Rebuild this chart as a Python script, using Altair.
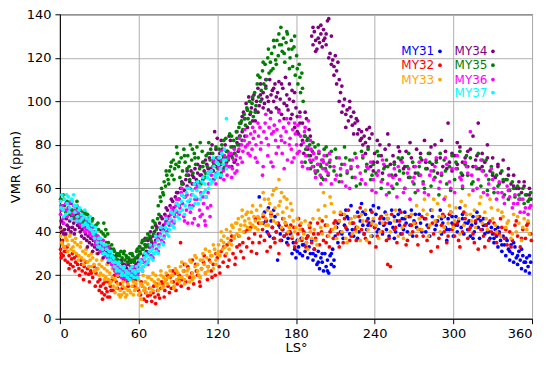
import altair as alt
import pandas as pd

# ---- data: (LS, VMR ppm) per Mars year ----
my31 = [(152,56),(155,44),(156,49),(158,40),(159,51),(160,38),(161,45),(162,42),(163,37),(164,47),(165,40),(166,27),(167,43),(168,39),(169,36),(170,41),(171,38),(172,44),(174,37),(175,40),(177,30),(178,35),(179,32),(180,28),(181,36),(182,33),(183,30),(184,37),(185,29),(186,34),(187,31),(188,35),(189,28),(190,33),(191,30),(192,36),(193,27),(194,32),(195,29),(196,25),(197,31),(198,23),(199,28),(200,26),(201,22),(202,30),(203,24),(204,27),(205,21),(206,29),(207,25),(208,32),(209,27),(210,38),(211,42),(212,35),(213,45),(214,40),(215,48),(216,37),(217,43),(218,50),(219,41),(220,46),(221,39),(222,52),(223,44),(224,38),(225,47),(226,42),(227,49),(228,40),(229,45),(230,53),(231,43),(232,39),(233,48),(234,41),(235,46),(236,44),(237,50),(238,38),(239,45),(240,42),(241,48),(242,40),(243,51),(244,44),(245,47),(246,39),(247,43),(248,49),(249,41),(250,46),(251,38),(252,44),(253,50),(254,42),(255,47),(256,40),(257,45),(258,48),(259,43),(260,39),(261,46),(262,41),(263,49),(264,44),(265,40),(266,47),(267,43),(268,50),(269,38),(270,45),(272,42),(274,48),(276,40),(278,46),(280,43),(282,38),(284,47),(286,41),(288,45),(290,50),(291,39),(292,44),(293,47),(294,42),(295,36),(296,46),(297,41),(298,49),(299,44),(300,38),(301,43),(302,47),(303,40),(304,45),(305,51),(306,42),(307,46),(308,39),(309,44),(310,48),(311,41),(312,45),(313,38),(314,43),(315,47),(316,40),(317,44),(318,49),(319,42),(320,37),(321,45),(322,41),(323,46),(324,39),(325,43),(326,40),(327,44),(328,37),(329,42),(330,39),(331,35),(332,41),(333,38),(334,33),(335,40),(336,36),(337,31),(338,38),(339,34),(340,29),(341,36),(342,32),(343,27),(344,34),(345,30),(346,26),(347,33),(348,28),(349,25),(350,31),(351,27),(352,23),(353,29),(354,26),(355,22),(356,28),(357,24),(358,21),(359,26)]
my31_extra = [(157,45),(163,50),(168,42),(173,35),(176,39),(181,31),(185,34),(189,38),(193,30),(197,26),(200,30),(204,22),(207,30),(209,24),(212,44),(215,39),(219,47),(223,41),(227,37),(231,49),(235,43),(239,52),(243,41),(247,46),(251,44),(255,37),(259,50),(263,46),(267,39),(271,48),(275,44),(279,40),(283,50),(287,43),(291,46),(295,41),(299,47),(303,43),(307,48),(311,44),(315,37),(319,46),(323,43),(327,40),(331,37),(334,42),(337,34),(340,37),(343,31),(346,35),(349,29),(352,32),(355,26),(358,29)]

my32 = [(0.5,32),(1,30),(1.8,35),(2.5,29),(3.2,33),(4,27),(5,31),(6,26),(7,29),(8,25),(9,27.5),(10,24),(11,28),(12,26),(13.5,25),(14.5,23),(16,27),(17,22),(18.5,24),(19.5,21),(21,23),(22,20.5),(23.5,22),(25,19),(26,24),(27.5,21),(29,17),(30,13),(31,15),(32,12),(33,16),(34,11),(35,14),(36,12.5),(37,17),(38,10),(39,13),(40,18),(41.5,20),(43,17),(44.5,19.5),(46,16),(47,21),(48.5,18),(50,22),(51.5,17),(53,19),(55,21),(57,15),(58.5,18),(60,13),(61.5,11),(63,15),(64,9),(65.5,12),(67,10.5),(68.5,14),(70,8),(71,12),(72.5,10),(73.5,16),(74.5,13),(76,9.5),(77,14),(78.5,16),(80,13),(81,18),(82.5,15),(84,19),(85,14),(86.5,17),(88,21),(89.5,16),(91,20),(92,35),(93,18),(94.5,22),(96,17),(97.5,24),(99,19),(100.5,21),(102,16),(103.5,25),(105,20),(106.5,17),(108,23),(109.5,26),(111,21),(112.5,18),(114,27),(115.5,22),(117,25),(118.5,20),(120,28),(121.5,24),(123,31),(124.5,26),(126,29),(127.5,34),(129,27),(130.5,36),(132,30),(133.5,25),(135,33),(136.5,38),(138,31),(139.5,35),(141,40),(142.5,33),(144,37),(145.5,42),(147,35),(148.5,39),(150,30),(151.5,44),(153,38),(154.5,41),(156,36),(157.5,45),(159,39),(160.5,33),(162,42),(163.5,37),(165,40),(166.5,44),(168,36),(169.5,41),(171,38),(172.5,43),(174,34),(175.5,40),(177,37),(178.5,42),(180,35),(181.5,39),(183,43),(184.5,36),(186,40),(187.5,33),(189,38),(190.5,42),(192,35),(193.5,39),(195,37),(196.5,44),(198,34),(199.5,40),(201,36),(202.5,43),(204,38),(205.5,33),(207,41),(208.5,37),(210,45),(212,39),(214,48),(216,35),(218,42),(220,50),(222,38),(224,44),(226,36),(228,47),(230,41),(232,39),(234,45),(236,35),(238,49),(240,42),(242,38),(244,46),(246,40),(248,44),(250,25),(251,37),(253,48),(255,41),(257,35),(259,45),(261,39),(263,43),(265,36),(267,47),(269,40),(271,44),(273,34),(275,41),(277,38),(279,46),(281,42),(283,31),(285,39),(287,45),(289,37),(291,43),(293,40),(295,35),(297,48),(299,41),(301,38),(303,44),(305,33),(307,40),(309,46),(311,37),(313,42),(315,39),(317,45),(319,32),(321,41),(323,38),(325,43),(327,36),(329,40),(331,44),(333,35),(335,39),(337,42),(339,37),(341,34),(343,40),(345,36),(347,43),(349,38),(351,33),(353,41),(355,37),(357,44),(359,39)]
my32_extra = [(1,28),(2,36),(3.5,31),(5.5,33),(7,23),(9.5,30),(11.5,22),(13,29),(15,20),(16.5,25),(18,18),(20,26),(22.5,17),(24,21),(27,15),(28.5,23),(30.5,18),(32.5,9),(34.5,17),(36.5,10),(38.5,15),(40.5,13),(42,22),(44,14),(45.5,23),(47.5,14),(49.5,20),(52,15),(54,24),(56,18),(59,20),(62,17),(64.5,13),(66,8),(69,11),(71.5,15),(73,7),(75,11),(77.5,17),(79.5,10),(82,20),(83.5,12),(86,22),(88.5,13),(90,18),(92.5,15),(95,25),(98,14),(101,27),(104,22),(107,15),(110,29),(113,24),(116,19),(119,30),(122,21),(125,33),(128,24),(131,38),(134,28),(137,34),(140,28),(143,41),(146,31),(149,46),(152,35),(155,47),(158,31),(161,48),(164,35),(167,30),(170,46),(173,39),(176,43),(179,33),(182,46),(185,41),(188,37),(191,44),(194,32),(197,39),(200,45),(203,35),(206,40),(209,44),(213,33),(217,46),(221,36),(225,41),(229,51),(233,37),(237,43),(241,33),(245,47),(249,36),(252,24),(256,42),(260,49),(264,34),(268,43),(272,38),(276,47),(280,36),(284,44),(288,33),(292,48),(296,38),(300,43),(304,36),(308,49),(312,41),(316,35),(320,47),(324,33),(328,45),(332,39),(336,46),(340,41),(344,33),(348,45),(352,37),(356,43),(359.5,36)]

my33 = [(0.5,38),(1.5,35),(2.5,40),(3.5,33),(4.5,37),(5.5,36),(6.5,34),(7.5,38),(8.5,32),(9.5,36),(10.5,31),(11.5,35),(12.5,30),(13.5,34),(14.5,29),(15.5,33),(16.5,28),(17.5,31),(18.5,27),(19.5,30),(21,26),(22,29),(23,27),(24,24),(25,28),(26,25),(27,22),(28,27),(29,23),(30,25),(31,21),(32,24),(33,20),(34,23),(35,19),(36,22),(37,18),(38,21),(39,17),(40,19),(41,15),(42,18),(43,14),(44,16),(45,11),(46,13),(47,11),(48,15),(49,12),(50,14),(51,11),(52,16),(53,13),(54,12),(55,15),(56,17),(57,13),(58,16),(59,14),(60,18),(61,12),(62,9),(62.5,6),(63,15),(64,13),(65,17),(66,12),(67,16),(68,19),(69,14),(70,18),(71,13),(72,17),(73,20),(74,15),(75,18),(76,16),(77,20),(78,14),(79,19),(80,17),(81,21),(82,16),(83,19),(84,22),(85,17),(86,20),(87,15),(88,23),(89,18),(90,21),(91,17),(92,24),(93,19),(94,22),(95,18),(96,25),(97,20),(98,23),(99,17),(100,26),(101,21),(102,19),(103,24),(104,28),(105,22),(106,20),(107,27),(108,23),(109,30),(110,25),(111,21),(112,28),(113,24),(114,31),(115,26),(116,29),(117,23),(118,32),(119,27),(120,30),(121,34),(122,29),(123,36),(124,32),(125,38),(126,33),(127,30),(128,37),(129,35),(130,40),(131,34),(132,42),(133,38),(134,44),(135,39),(136,46),(137,41),(138,43),(139,47),(140,40),(141,45),(142,48),(143,42),(144,46),(145,44),(146,49),(147,43),(148,47),(149,45),(150,50),(151,41),(152,46),(153,52),(154,44),(155,48),(156,55),(157,46),(158,50),(159,43),(160,53),(161,47),(162,57),(163,45),(164,51),(165,60),(166,48),(167,64),(168,54),(169,42),(170,49),(171,56),(172,44),(173,51),(174,40),(175,47),(176,53),(177,38),(178,45),(180,42),(182,36),(184,44),(186,39),(188,35),(190,43),(192,37),(194,41),(196,34),(198,46),(200,39),(202,52),(204,43),(206,56),(208,41),(209,49),(211,37),(213,45),(215,40),(217,48),(219,35),(221,44),(223,39),(225,47),(227,42),(229,36),(231,45),(233,50),(235,41),(237,38),(239,46),(241,43),(243,37),(246,44),(249,48),(252,40),(255,45),(258,38),(261,42),(264,47),(267,39),(270,44),(272,52),(274,46),(276,41),(278,55),(280,48),(282,43),(284,50),(286,45),(288,53),(290,40),(292,47),(294,56),(296,44),(298,49),(300,42),(302,51),(304,46),(306,54),(308,43),(310,48),(312,57),(314,45),(316,50),(318,47),(320,53),(322,44),(324,49),(326,41),(328,55),(330,46),(332,43),(334,50),(336,38),(338,47),(340,42),(342,45),(344,37),(346,48),(348,40),(350,44),(352,36),(354,46),(356,41),(358,39)]
my33_extra = [(1,41),(2,34),(4,38),(6,31),(8,39),(10,33),(12,37),(14,27),(16,35),(18,25),(20,32),(22,24),(24,30),(26,22),(28,30),(30,20),(32,27),(34,18),(36,25),(38,16),(40,23),(42,12),(44,20),(46,10),(48,17),(50,10),(52,13),(54,18),(56,11),(58,14),(60,11),(62,16),(63.5,20),(65,14),(67,19),(69,12),(71,21),(73,16),(75,13),(77,22),(79,15),(81,18),(83,24),(85,20),(87,14),(89,22),(91,19),(93,26),(95,16),(97,22),(99,27),(101,18),(103,29),(105,25),(107,19),(109,27),(111,32),(113,22),(115,29),(117,34),(119,25),(121,31),(123,40),(125,35),(127,41),(129,32),(131,43),(133,37),(135,44),(137,38),(139,50),(141,43),(143,49),(145,41),(147,52),(149,42),(151,47),(153,44),(155,58),(157,43),(159,55),(161,49),(163,59),(165,44),(167,52),(169,58),(171,46),(173,55),(175,42),(177,50),(179,40),(181,46),(183,41),(185,37),(187,45),(189,32),(191,40),(193,46),(195,36),(197,50),(199,42),(201,58),(203,47),(205,38),(207,53),(210,42),(214,49),(218,37),(222,46),(226,40),(230,48),(234,36),(238,44),(244,40),(250,46),(256,50),(262,37),(268,48),(273,41),(277,50),(281,38),(285,55),(289,47),(293,42),(297,52),(301,45),(305,39),(309,52),(313,48),(317,42),(321,56),(325,46),(329,51),(333,40),(337,49),(341,44),(345,39),(349,47),(353,42),(357,45)]

my34 = [(0.5,42),(1.5,40),(2.5,44),(3.5,41),(4.5,39),(5.5,43),(6.5,41),(7.5,45),(8.5,40),(9.5,42),(10.5,44),(11.5,41),(12.5,48),(13.5,43),(14.5,50),(15.5,40),(16.5,38),(17.5,46),(18.5,37),(19.5,39),(20.5,36),(21.5,38),(22.5,35),(23.5,37),(24.5,34),(25.5,36),(26.5,33),(27.5,35),(28.5,32),(29.5,34),(31,31),(32,33),(33,30),(34,32),(35,29),(36,31),(37,28),(38,30),(39,27),(40,29),(41,26),(42,28),(43,25),(44,27),(45,24),(46,26),(47,23),(48,25),(49,22),(50,24),(51,23),(52,25),(53,22),(54,26),(55,24),(56,27),(57,23),(58,25),(59,28),(60,26),(61,30),(62,27),(63,32),(64,29),(65,34),(66,31),(67,36),(68,33),(69,37),(70,35),(71,38),(72,40),(73,36),(74,42),(75,39),(76,44),(77,41),(78,46),(79,43),(80,48),(81,45),(82,50),(83,47),(84,52),(85,49),(86,54),(87,51),(88,56),(89,53),(90,58),(91,55),(92,60),(93,57),(94,62),(95,59),(96,64),(97,61),(98,66),(99,63),(100,68),(101,62),(102,65),(103,69),(104,64),(105,67),(106,63),(107,70),(108,66),(109,72),(110,68),(111,65),(112,71),(113,67),(114,74),(115,69),(116,80),(117,72),(118,86),(119,70),(120,83),(121,73),(122,76),(123,71),(124,78),(125,74),(126,80),(127,72),(128,77),(129,75),(130,82),(131,70),(132,79),(133,76),(134,73),(135,81),(136,77),(137,84),(138,90),(139,86),(140,95),(141,92),(142,99),(143,88),(144,102),(145,94),(146,97),(147,91),(148,103),(149,96),(150,100),(151,106),(152,98),(153,108),(154,101),(155,104),(156,99),(157,107),(158,102),(159,96),(160,110),(161,103),(162,105),(163,100),(164,108),(165,97),(166,104),(167,109),(168,101),(169,94),(170,106),(171,99),(172,111),(173,103),(174,96),(175,108),(176,92),(177,105),(178,100),(179,88),(180,97),(181,93),(182,85),(183,95),(184,80),(185,90),(186,76),(187,84),(188,92),(189,79),(190,87),(191,75),(192,130),(193,126),(194,132),(195,128),(196,124),(197,134),(198,127),(199,131),(200,125),(201,133),(202,129),(203,126),(204,137),(205,138),(206,122),(207,130),(208,119),(209,116),(210,121),(211,114),(212,118),(213,110),(214,104),(215,107),(216,98),(217,101),(218,94),(219,96),(220,91),(221,100),(222,93),(223,89),(224,95),(225,90),(226,92),(227,85),(228,87),(229,82),(230,86),(231,80),(232,84),(233,81),(234,87),(235,79),(236,83),(237,70),(238,85),(239,68),(240,76),(242,72),(244,80),(246,67),(248,78),(250,85),(252,71),(254,75),(256,66),(258,79),(260,73),(262,69),(264,77),(266,65),(268,74),(270,70),(272,78),(274,66),(276,73),(278,82),(280,69),(282,76),(284,71),(286,80),(288,67),(290,74),(292,70),(294,77),(296,90),(297,72),(299,68),(301,75),(303,71),(305,79),(307,66),(309,74),(311,70),(313,78),(315,84),(317,73),(319,90),(320,69),(322,76),(324,72),(326,80),(328,68),(330,74),(332,65),(334,71),(336,67),(338,73),(340,64),(342,69),(344,62),(346,66),(348,60),(350,63),(352,58),(354,61),(356,57),(358,60),(359,55)]
my34_extra = [(1,45),(3,39),(5,46),(7,42),(9,47),(11,39),(13,45),(15,42),(17,41),(19,42),(21,33),(23,40),(25,31),(27,37),(29,30),(31,35),(33,28),(35,33),(37,26),(39,32),(41,24),(43,29),(45,22),(47,27),(49,25),(51,21),(53,27),(55,22),(57,26),(59,24),(61,33),(63,26),(65,37),(67,30),(69,40),(71,34),(73,43),(75,37),(77,47),(79,41),(81,51),(83,44),(85,55),(87,48),(89,58),(91,52),(93,63),(95,56),(97,68),(99,60),(101,66),(103,62),(105,71),(107,66),(109,64),(111,73),(113,69),(115,76),(117,68),(119,78),(121,70),(123,82),(125,69),(127,77),(129,84),(131,75),(133,72),(135,86),(137,80),(139,93),(141,84),(143,96),(145,90),(147,101),(149,91),(151,95),(153,103),(155,97),(157,110),(159,100),(161,95),(163,106),(165,102),(167,96),(169,108),(171,92),(173,98),(175,101),(177,94),(179,104),(181,86),(183,90),(185,82),(187,95),(189,78),(191,84),(193,134),(195,123),(197,129),(199,135),(201,128),(203,131),(205,120),(207,117),(209,112),(211,108),(213,100),(215,95),(218,88),(221,97),(224,85),(227,91),(230,83),(233,76),(236,88),(239,72),(242,82),(245,75),(248,70),(251,80),(255,72),(259,77),(263,70),(267,81),(271,67),(275,76),(279,72),(283,79),(287,73),(291,82),(295,69),(299,76),(303,81),(307,72),(311,77),(315,70),(318,75),(322,70),(326,74),(330,66),(334,70),(338,63),(342,66),(346,61),(350,60),(354,63),(358,57)]

my35 = [(0.5,55),(1.5,50),(2.5,57),(3.5,52),(4.5,49),(5.5,54),(6.5,51),(7.5,48),(8.5,53),(9.5,50),(10.5,47),(11.5,52),(12.5,49),(13.5,51),(14.5,46),(15.5,50),(16.5,47),(17.5,49),(18.5,45),(19.5,48),(20.5,46),(21.5,44),(22.5,47),(23.5,43),(24.5,45),(25.5,42),(26.5,40),(27.5,43),(28.5,38),(29.5,41),(30.5,37),(31.5,40),(32.5,36),(33.5,44),(34.5,38),(35.5,35),(36.5,39),(37.5,33),(38.5,31),(39.5,34),(40.5,29),(41.5,31),(42.5,28),(43.5,30),(44.5,27),(45.5,29),(46.5,31),(47.5,28),(48.5,30),(49.5,27),(50.5,29),(51.5,26),(52.5,28),(53.5,30),(54.5,27),(55.5,29),(56.5,26),(57.5,28),(58.5,31),(59.5,29),(60.5,33),(61.5,30),(62.5,35),(63.5,32),(64.5,36),(65.5,33),(66.5,37),(67.5,34),(68.5,38),(69.5,36),(70.5,42),(71.5,39),(72.5,44),(73.5,41),(74.5,46),(75.5,48),(76.5,56),(77.5,60),(78.5,58),(79.5,63),(80.5,61),(81.5,66),(82.5,64),(83.5,68),(84.5,70),(85.5,66),(86.5,73),(87.5,69),(88.5,71),(89.5,76),(90.5,70),(91.5,65),(92.5,74),(93.5,68),(94.5,78),(95.5,72),(96.5,66),(97.5,75),(98.5,70),(99.5,80),(100.5,73),(101.5,67),(102.5,76),(103.5,71),(104.5,79),(105.5,74),(106.5,69),(107.5,62),(108.5,77),(109.5,72),(110.5,65),(111.5,75),(112.5,70),(113.5,81),(114.5,73),(115.5,68),(116.5,76),(117.5,71),(118.5,66),(119.5,74),(120.5,69),(121.5,78),(122.5,72),(123.5,80),(124.5,75),(125.5,70),(126.5,83),(127.5,77),(128.5,73),(129.5,85),(130.5,79),(131.5,74),(132.5,82),(133.5,76),(134.5,86),(135.5,80),(136.5,88),(137.5,84),(138.5,91),(139.5,87),(140.5,94),(141.5,89),(142.5,97),(143.5,92),(144.5,100),(145.5,95),(146.5,99),(147.5,93),(148.5,104),(149.5,98),(150.5,108),(151.5,102),(152.5,111),(153.5,105),(154.5,114),(155.5,108),(156.5,117),(157.5,110),(158.5,120),(159.5,113),(160.5,118),(161.5,122),(162.5,115),(163.5,125),(164.5,119),(165.5,128),(166.5,121),(167.5,126),(168.5,134),(169.5,123),(170.5,129),(171.5,118),(172.5,127),(173.5,131),(174.5,124),(175.5,120),(176.5,128),(177.5,116),(178.5,125),(179.5,112),(180.5,121),(181.5,108),(182.5,117),(183.5,104),(184.5,113),(185.5,100),(186.5,84),(187.5,78),(188.5,82),(189.5,75),(190.5,80),(191.5,72),(192.5,77),(193.5,70),(194.5,79),(195.5,74),(196.5,68),(197.5,76),(198.5,71),(199.5,65),(200.5,73),(201.5,78),(202.5,69),(203.5,75),(204.5,66),(205.5,72),(207,77),(209,68),(211,74),(213,63),(215,71),(217,79),(219,67),(221,73),(223,65),(225,76),(227,70),(229,62),(231,74),(233,68),(235,78),(237,64),(239,71),(241,67),(243,75),(245,60),(247,69),(249,73),(251,58),(253,66),(255,71),(257,62),(259,68),(261,74),(263,60),(265,70),(267,65),(269,72),(271,58),(273,67),(275,74),(277,63),(279,69),(281,76),(283,61),(285,68),(287,72),(289,57),(291,66),(293,73),(295,62),(297,70),(299,75),(301,64),(303,69),(305,77),(307,60),(309,71),(311,66),(313,74),(315,63),(317,70),(319,76),(321,61),(323,68),(325,73),(327,64),(329,70),(331,58),(333,66),(335,62),(337,68),(339,57),(341,64),(343,59),(345,63),(347,56),(349,61),(351,55),(353,60),(355,57),(357,54),(359,58)]
my35_extra = [(1,52),(3,55),(5,47),(7,53),(9,50),(11,46),(13,54),(15,48),(17,44),(19,49),(21,48),(23,42),(25,46),(27,39),(29,44),(31,35),(33,39),(35,41),(37,35),(39,29),(41,32),(43,27),(45,30),(47,26),(49,31),(51,28),(53,26),(55,30),(57,27),(59,32),(61,31),(63,36),(65,34),(67,39),(69,33),(71,45),(73,38),(75,52),(77,54),(79,57),(81,68),(83,62),(85,72),(87,64),(89,79),(91,72),(93,62),(95,75),(97,69),(99,64),(101,78),(103,74),(105,63),(107,81),(109,70),(111,67),(113,76),(115,78),(117,64),(119,79),(121,74),(123,67),(125,82),(127,74),(129,70),(131,84),(133,79),(135,83),(137,90),(139,82),(141,92),(143,96),(145,90),(147,102),(149,95),(151,112),(153,100),(155,118),(157,106),(159,124),(161,114),(163,128),(165,117),(167,131),(169,126),(171,122),(173,132),(175,115),(177,124),(179,130),(181,115),(183,111),(185,106),(187,72),(189,83),(191,69),(193,81),(195,67),(197,80),(199,70),(201,64),(203,79),(206,70),(210,78),(214,66),(218,74),(222,69),(226,61),(230,77),(234,71),(238,66),(242,77),(246,64),(250,70),(254,60),(258,74),(262,67),(266,76),(270,62),(274,70),(278,60),(282,72),(286,65),(290,76),(294,68),(298,59),(302,72),(306,67),(310,75),(314,62),(318,69),(322,73),(326,59),(330,67),(334,61),(338,64),(342,55),(346,60),(350,57),(354,53),(358,55)]

my36 = [(0.5,48),(1.5,52),(2.5,46),(3.5,50),(4.5,53),(5.5,47),(6.5,51),(7.5,49),(8.5,54),(9.5,48),(10.5,52),(11.5,50),(12.5,46),(13.5,49),(14.5,45),(15.5,47),(16.5,43),(17.5,46),(18.5,42),(19.5,44),(20.5,41),(21.5,43),(22.5,40),(23.5,42),(24.5,38),(25.5,40),(26.5,36),(27.5,38),(28.5,34),(29.5,36),(30.5,33),(31.5,35),(32.5,31),(33.5,33),(34.5,30),(35.5,32),(36.5,28),(37.5,30),(38.5,27),(39.5,25),(40.5,26),(41.5,23),(42.5,25),(43.5,22),(44.5,24),(45.5,21),(46.5,23),(47.5,20),(48.5,22),(49.5,19),(50.5,21),(51.5,20),(52.5,22),(53.5,19),(54.5,21),(55.5,23),(56.5,20),(57.5,22),(58.5,24),(59.5,21),(60.5,25),(61.5,23),(62.5,27),(63.5,24),(64.5,28),(65.5,26),(66.5,30),(67.5,27),(68.5,31),(69.5,29),(70.5,33),(71.5,30),(72.5,35),(73.5,32),(74.5,37),(75.5,34),(76.5,39),(77.5,36),(78.5,41),(79.5,38),(80.5,44),(81.5,40),(82.5,46),(83.5,43),(84.5,48),(85.5,45),(86.5,50),(87.5,47),(88.5,52),(89.5,49),(90.5,55),(91.5,51),(92.5,58),(93.5,53),(94.5,47),(95.5,56),(96.5,50),(97.5,44),(98.5,54),(99.5,49),(100.5,57),(101.5,52),(102.5,46),(103.5,60),(104.5,55),(105.5,43),(106.5,50),(107.5,58),(108.5,48),(109.5,53),(110.5,45),(111.5,56),(112.5,51),(113.5,62),(114.5,47),(115.5,66),(116.5,70),(117.5,64),(118.5,72),(119.5,67),(120.5,74),(121.5,69),(122.5,65),(123.5,73),(124.5,68),(125.5,75),(126.5,71),(127.5,66),(128.5,74),(129.5,70),(130.5,76),(131.5,69),(132.5,73),(133.5,67),(134.5,75),(135.5,71),(136.5,78),(137.5,74),(138.5,80),(139.5,77),(140.5,82),(141.5,79),(142.5,84),(143.5,76),(144.5,81),(145.5,85),(146.5,78),(147.5,83),(148.5,86),(149.5,80),(150.5,72),(151.5,84),(152.5,88),(153.5,81),(154.5,66),(155.5,86),(156.5,90),(157.5,83),(158.5,75),(159.5,88),(160.5,92),(161.5,85),(162.5,70),(163.5,89),(164.5,82),(165.5,87),(166.5,79),(167.5,91),(168.5,84),(169.5,76),(170.5,88),(171.5,81),(172.5,86),(173.5,73),(174.5,90),(175.5,83),(176.5,78),(177.5,87),(178.5,74),(179.5,85),(180.5,80),(181.5,89),(182.5,77),(183.5,84),(184.5,72),(185.5,81),(186.5,86),(187.5,75),(188.5,79),(189.5,91),(190.5,73),(191.5,78),(192.5,70),(193.5,76),(194.5,68),(195.5,74),(196.5,71),(197.5,77),(198.5,66),(199.5,73),(200.5,69),(201.5,75),(202.5,64),(203.5,71),(204.5,67),(205.5,76),(207,62),(209,70),(211,66),(213,74),(215,63),(217,71),(219,68),(221,60),(223,73),(225,65),(227,70),(229,67),(231,75),(233,62),(235,69),(237,72),(239,64),(241,58),(243,68),(245,63),(247,71),(249,57),(251,66),(253,61),(255,69),(257,56),(259,64),(261,72),(263,60),(265,67),(267,55),(269,63),(271,70),(273,59),(275,66),(277,62),(279,73),(281,57),(283,68),(285,64),(287,74),(289,60),(291,67),(293,55),(295,71),(297,63),(299,69),(301,58),(303,75),(305,65),(307,61),(309,72),(311,67),(313,86),(315,59),(317,70),(319,64),(321,73),(323,58),(325,66),(327,62),(329,69),(331,60),(333,55),(335,63),(337,58),(339,53),(341,61),(343,56),(345,51),(347,57),(349,53),(351,49),(353,55),(355,51),(357,48),(359,52)]
my36_extra = [(1,50),(3,44),(5,50),(7,53),(9,46),(11,49),(13,52),(15,44),(17,48),(19,40),(21,45),(23,39),(25,42),(27,34),(29,38),(31,31),(33,36),(35,29),(37,33),(39,26),(41,24),(43,21),(45,23),(47,19),(49,21),(51,18),(53,20),(55,19),(57,24),(59,20),(61,27),(63,22),(65,30),(67,25),(69,33),(71,28),(73,38),(75,31),(77,42),(79,35),(81,47),(83,41),(85,51),(87,44),(89,55),(91,48),(93,60),(95,45),(97,57),(99,52),(101,44),(103,55),(105,61),(107,47),(109,56),(111,43),(113,58),(115,52),(117,73),(119,62),(121,70),(123,77),(125,64),(127,70),(129,76),(131,65),(133,78),(135,68),(137,83),(139,72),(141,87),(143,80),(145,75),(147,88),(149,74),(151,90),(153,78),(155,70),(157,94),(159,80),(161,72),(163,86),(165,76),(167,95),(169,82),(171,69),(173,92),(175,80),(177,72),(179,90),(181,76),(183,93),(185,70),(187,88),(189,69),(191,82),(193,73),(195,65),(197,71),(199,62),(201,72),(203,68),(206,73),(210,64),(214,69),(218,61),(222,70),(226,74),(230,64),(234,70),(238,59),(242,66),(246,73),(250,62),(254,65),(258,70),(262,58),(266,69),(270,65),(274,72),(278,58),(282,66),(286,70),(290,63),(294,74),(298,60),(302,69),(306,64),(310,70),(314,66),(318,60),(322,68),(326,57),(330,64),(334,58),(338,56),(342,59),(346,53),(350,55),(354,49),(358,51)]

my37 = [(0.5,54),(1.5,57),(2.5,50),(3.5,55),(4.5,48),(5.5,53),(6.5,56),(7.5,51),(8.5,46),(9.5,54),(10.5,57),(11.5,49),(12.5,52),(13.5,47),(14.5,50),(15.5,45),(16.5,48),(17.5,43),(18.5,47),(19.5,44),(20.5,46),(21.5,42),(22.5,45),(23.5,41),(24.5,43),(25.5,39),(26.5,37),(27.5,40),(28.5,35),(29.5,37),(30.5,33),(31.5,35),(32.5,32),(33.5,34),(34.5,30),(35.5,32),(36.5,29),(37.5,31),(38.5,27),(39.5,29),(40.5,26),(41.5,24),(42.5,26),(43.5,23),(44.5,25),(45.5,22),(46.5,24),(47.5,21),(48.5,23),(49.5,20),(50.5,22),(51.5,19),(52.5,21),(53.5,23),(54.5,20),(55.5,22),(56.5,19),(57.5,21),(58.5,24),(59.5,22),(60.5,25),(61.5,23),(62.5,26),(63.5,24),(64.5,28),(65.5,25),(66.5,29),(67.5,27),(68.5,31),(69.5,28),(70.5,32),(71.5,30),(72.5,34),(73.5,31),(74.5,36),(75.5,33),(76.5,38),(77.5,35),(78.5,40),(79.5,37),(80.5,42),(81.5,39),(82.5,44),(83.5,41),(84.5,46),(85.5,43),(86.5,48),(87.5,45),(88.5,50),(89.5,47),(90.5,52),(91.5,49),(92.5,54),(93.5,50),(94.5,56),(95.5,52),(96.5,58),(97.5,54),(98.5,60),(99.5,55),(100.5,51),(101.5,57),(102.5,62),(103.5,56),(104.5,59),(105.5,53),(106.5,61),(107.5,57),(108.5,63),(109.5,58),(110.5,62),(111.5,56),(112.5,65),(113.5,60),(114.5,64),(115.5,68),(116.5,63),(117.5,70),(118.5,66),(119.5,72),(120.5,67),(121.5,74),(122.5,69),(123.5,76),(124.5,71),(125.5,78),(126.5,73),(127,92)]
my37_extra = [(1,51),(3,47),(5,57),(7,49),(9,55),(11,52),(13,45),(15,51),(17,46),(19,50),(21,43),(23,47),(25,40),(27,42),(29,33),(31,37),(33,30),(35,34),(37,27),(39,31),(41,28),(43,22),(45,26),(47,20),(49,24),(51,21),(53,18),(55,24),(57,22),(59,19),(61,27),(63,22),(65,30),(67,26),(69,34),(71,27),(73,38),(75,30),(77,42),(79,34),(81,46),(83,38),(85,49),(87,42),(89,53),(91,46),(93,57),(95,48),(97,60),(99,51),(101,59),(103,53),(105,63),(107,55),(109,65),(111,59),(113,67),(115,62),(117,74),(119,65),(121,71),(123,66),(125,73),(127,69)]

names = ["MY31", "MY32", "MY33", "MY34", "MY35", "MY36", "MY37"]
colors = ["#0000ff", "#ff0000", "#ffa500", "#800080", "#008000", "#ff00ff", "#00ffff"]
series = [my31 + my31_extra, my32 + my32_extra, my33 + my33_extra, my34 + my34_extra,
          my35 + my35_extra, my36 + my36_extra, my37 + my37_extra]
x_ticks = list(range(0, 361, 30))
y_ticks = list(range(0, 141, 20))

rows = []
for name, pts in zip(names, series):
    for ls, v in pts:
        rows.append({"ls": ls, "vmr": v, "year": name})
df = pd.DataFrame(rows)

# legend layout (in data coordinates), two columns
leg_text_x = [285.4, 285.4, 285.4, 326.0, 326.0, 326.0, 326.0]
leg_dot_x = [289.8, 289.8, 289.8, 330.2, 330.2, 330.2, 330.2]
leg_y = [123.0, 116.6, 110.0, 123.0, 116.6, 110.0, 104.0]
leg = pd.DataFrame({"year": names, "tx": leg_text_x, "dx": leg_dot_x, "ty": leg_y})

cscale = alt.Scale(domain=names, range=colors)
xs = alt.Scale(domain=[0, 360], nice=False)
ys = alt.Scale(domain=[0, 140], nice=False)

points = alt.Chart(df).mark_circle(size=14, opacity=1).encode(
    x=alt.X("ls:Q", scale=xs, title="LS°",
            axis=alt.Axis(values=x_ticks, grid=True)),
    y=alt.Y("vmr:Q", scale=ys, title="VMR (ppm)",
            axis=alt.Axis(values=y_ticks, grid=True)),
    color=alt.Color("year:N", scale=cscale, legend=None),
)

leg_text = alt.Chart(leg).mark_text(align="right", baseline="middle", fontSize=12,
                                     font="DejaVu Sans").encode(
    x=alt.X("tx:Q", scale=xs),
    y=alt.Y("ty:Q", scale=ys),
    text="year:N",
    color=alt.Color("year:N", scale=cscale, legend=None),
)
leg_dot = alt.Chart(leg).mark_circle(size=14, opacity=1).encode(
    x=alt.X("dx:Q", scale=xs),
    y=alt.Y("ty:Q", scale=ys),
    color=alt.Color("year:N", scale=cscale, legend=None),
)

chart = (points + leg_text + leg_dot).properties(
    width=473, height=305,
    padding={"left": 52, "top": 6, "right": 10, "bottom": 36},
    autosize="none",
).configure(font="DejaVu Sans").configure_view(
    stroke="black", strokeWidth=1
).configure_axis(
    domainColor="black", tickColor="black", labelColor="black", titleColor="black",
    labelFontSize=13, titleFontSize=13, titleFontWeight="normal",
    tickSize=5, labelPadding=4, gridColor="#b0b0b0", gridWidth=1,
    labelFont="DejaVu Sans", titleFont="DejaVu Sans",
).configure_axisY(titlePadding=4).configure_axisX(titlePadding=1)

chart.save("out.html", embed_options={"renderer": "svg", "actions": False})
